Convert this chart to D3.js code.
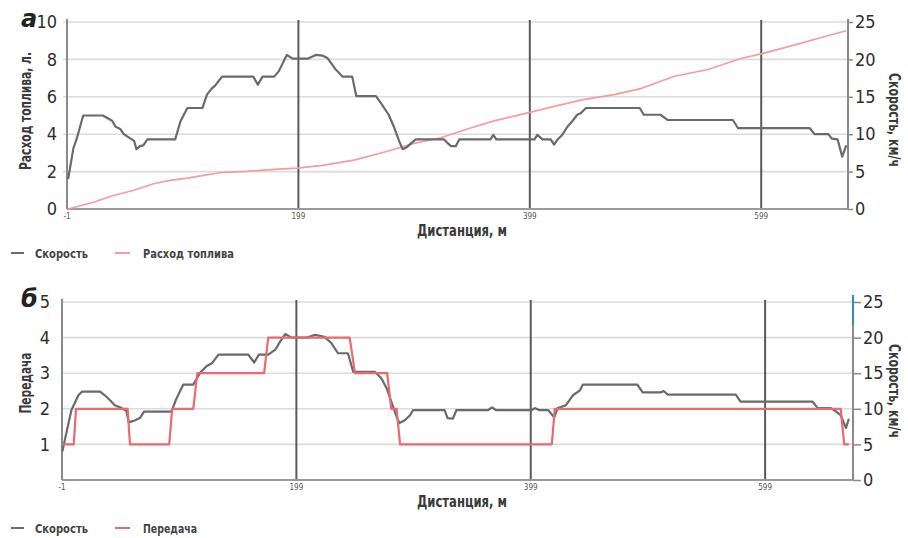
<!DOCTYPE html>
<html>
<head>
<meta charset="utf-8">
<script src="https://cdn.jsdelivr.net/npm/d3@7"></script>
<style>
  body { margin: 0; background: #fff; }
  text { font-family: "DejaVu Sans", sans-serif; font-stretch: condensed; fill: #333; }
  .tick-lbl { font-size: 18px; fill: #2e2e2e; }
  .xtick { font-size: 8px; fill: #555; }
  .title { font-size: 16px; font-weight: bold; fill: #3a3a3a; }
  .legend { font-size: 13px; font-weight: bold; fill: #444; }
  .panel-lbl { font-size: 24px; font-style: italic; font-weight: bold; fill: #222; font-stretch: normal; }
</style>
</head>
<body>
<script>
// distance axis (m), shared by both panels
var distDomain = [-1, 674];
var distTicks = [-1, 199, 399, 599];

// panel а: speed (km/h, right axis) and fuel consumption (l, left axis)
var speedA = [[0,4.0],[4.5,8.1],[7.4,9.4],[13,12.5],[30,12.5],[38,11.8],[41,11.0],[45,10.7],[48,10.0],[55,9.3],[57,9.1],[59,8.0],[62,8.4],[65,8.5],[68.5,9.3],[92.5,9.3],[97,11.7],[103,13.5],[116,13.5],[120,15.3],[124,16.1],[127,16.5],[133,17.7],[160,17.7],[164,16.6],[168,17.7],[178,17.7],[182,18.4],[189,20.6],[194,20.1],[207,20.1],[214,20.6],[220,20.5],[224,20.2],[231,18.7],[237,17.7],[245.5,17.7],[249,15.1],[266,15.1],[271.5,13.9],[277,12.6],[281.5,11.0],[286,9.1],[289,8.0],[293,8.3],[296.5,8.8],[300.5,9.3],[325,9.3],[328,8.8],[331,8.4],[335,8.4],[338,9.3],[365,9.3],[367.5,9.9],[370,9.3],[403,9.3],[405.5,9.9],[410,9.3],[417,9.3],[420,8.6],[423,9.3],[427,9.9],[431.5,11.0],[436,11.8],[440,12.6],[443,12.8],[447.5,13.5],[494,13.5],[497.5,12.6],[512,12.6],[518,11.9],[574.5,11.9],[579,10.8],[641,10.8],[645,10.0],[657,10.0],[660,9.4],[665,9.3],[669,7.0],[672.5,8.5]];
var fuelA = [[0,0],[22,0.36],[39,0.72],[56,0.99],[74,1.35],[88,1.53],[103,1.65],[117,1.80],[131,1.94],[154,2.01],[178,2.12],[198,2.19],[220,2.33],[247,2.61],[276,3.09],[299,3.51],[322,3.81],[345,4.28],[368,4.71],[400,5.18],[420,5.49],[445,5.85],[472,6.12],[495,6.44],[524,7.1],[553,7.46],[582,8.06],[600,8.31],[628,8.78],[651,9.17],[672.5,9.53]];
var fuelTicks = [0, 2, 4, 6, 8, 10];

// panel б: speed (km/h, right axis) and gear (left axis)
var speedB = [[-0.7,4.0],[3,6.8],[7,9.8],[13,11.9],[16,12.4],[31.5,12.4],[35.5,11.9],[40,11.2],[44,10.5],[50,10.1],[54,9.7],[56,8.1],[60,8.3],[65.5,8.7],[69,9.6],[92.5,9.6],[96,11.2],[102.5,13.4],[111,13.4],[117,15.1],[122.5,16.0],[127,16.4],[132.5,17.6],[158,17.6],[163,16.5],[167,17.6],[175,17.6],[181,18.3],[185,19.4],[189.5,20.5],[195,20.0],[208,20.0],[215,20.4],[223,20.1],[229,19.2],[234.5,17.8],[243,17.8],[247.5,15.2],[266,15.2],[271.5,14.3],[276,12.9],[281.5,10.3],[285,8.7],[287,8.0],[291.5,8.4],[296,9.1],[298.5,9.8],[325.5,9.8],[328,8.7],[332.5,8.6],[335.5,9.8],[362.5,9.8],[366,10.2],[369.5,9.8],[399.5,9.8],[402.5,10.1],[406.5,9.8],[414,9.8],[419,8.8],[422,10.1],[429,10.5],[435,11.9],[441,12.6],[443.5,13.4],[490,13.4],[494.5,12.3],[510,12.3],[512.5,12.5],[516,12.0],[574,12.0],[578,11.0],[639.5,11.0],[644,10.1],[655,10.1],[658,9.8],[663.5,9.1],[668,7.3],[670.5,8.6]];
var gearB = [[-0.7,1],[9,1],[11,2],[55,2],[57,1],[90.5,1],[93,2],[111,2],[114.5,3],[171.5,3],[175,4],[244.5,4],[249,3],[276.5,3],[280,2],[284.5,2],[287.5,1],[417,1],[419.5,2],[663.5,2],[666.5,1],[670.5,1]];
var gearTicks = [1, 2, 3, 4, 5];

var speedTicks = [0, 5, 10, 15, 20, 25];

var W = 908, H = 538;
var svg = d3.select("body").append("svg")
    .attr("width", W)
    .attr("height", H);

function drawPanel(p) {
    var g = svg.append("g");
    var x = d3.scaleLinear().domain(distDomain).range([p.x0, p.x1]);
    var yL = d3.scaleLinear().domain([0, p.leftMax]).range([p.yB, p.yT]);
    var yR = d3.scaleLinear().domain([0, 25]).range([p.yB, p.yT]);

    // horizontal grid
    g.selectAll("line.hgrid")
        .data(p.leftTicks.filter(function(d) { return d > 0; }))
        .join("line")
        .attr("x1", p.x0 - p.gridIn)
        .attr("x2", p.x1)
        .attr("y1", function(d) { return yL(d); })
        .attr("y2", function(d) { return yL(d); })
        .attr("stroke", "#dcdcdc")
        .attr("stroke-width", 1.6);

    // vertical lines at distance ticks
    g.selectAll("line.vgrid")
        .data(distTicks.slice(1))
        .join("line")
        .attr("x1", function(d) { return x(d); })
        .attr("x2", function(d) { return x(d); })
        .attr("y1", p.yT - 2)
        .attr("y2", p.yB)
        .attr("stroke", "#5a5a5a")
        .attr("stroke-width", 2);

    // x axis line
    g.append("line")
        .attr("x1", p.x0).attr("x2", p.x1)
        .attr("y1", p.yB).attr("y2", p.yB)
        .attr("stroke", "#9a9a9a").attr("stroke-width", 2);

    // left axis
    var ax = d3.axisLeft(yL).tickValues(p.leftTicks).tickFormat(d3.format("d"))
        .tickSize(0).tickPadding(p.leftPad);
    var gl = g.append("g").attr("transform", "translate(" + p.x0 + ",0)").call(ax);
    gl.select(".domain").attr("stroke", "#8a8a8a").attr("stroke-width", 2)
        .attr("d", "M0," + (p.yT - 3) + "V" + p.yB);
    gl.selectAll("text").attr("class", "tick-lbl").attr("font-family", null).attr("font-size", null).attr("fill", null);

    // right axis
    var ar = d3.axisRight(yR).tickValues(speedTicks).tickFormat(d3.format("d"))
        .tickSize(p.rTick).tickPadding(2);
    var gr = g.append("g").attr("transform", "translate(" + p.x1 + ",0)").call(ar);
    gr.select(".domain").attr("stroke", "#8a8a8a").attr("stroke-width", 2)
        .attr("d", "M0," + (p.yT - 3) + "V" + p.yB);
    gr.selectAll(".tick line").attr("stroke", "#8a8a8a").attr("stroke-width", 1.5);
    gr.selectAll("text").attr("class", "tick-lbl").attr("font-family", null).attr("font-size", null).attr("fill", null);

    // distance tick labels
    g.selectAll("text.xtick")
        .data(distTicks)
        .join("text")
        .attr("class", "xtick")
        .attr("x", function(d) { return x(d); })
        .attr("y", p.yB + 10)
        .attr("text-anchor", "middle")
        .text(function(d) { return d; });

    // series
    var lineL = d3.line().x(function(d) { return x(d[0]); }).y(function(d) { return yL(d[1]); });
    var lineR = d3.line().x(function(d) { return x(d[0]); }).y(function(d) { return yR(d[1]); });

    if (p.leftFirst) {
        g.append("path").datum(p.left).attr("d", lineL).attr("fill", "none")
            .attr("stroke", p.leftColor).attr("stroke-width", p.leftWidth).attr("stroke-linejoin", "round");
    }
    g.append("path").datum(p.speed).attr("d", lineR).attr("fill", "none")
        .attr("stroke", "#6a6a6a").attr("stroke-width", 2.2).attr("stroke-linejoin", "round");
    if (!p.leftFirst) {
        g.append("path").datum(p.left).attr("d", lineL).attr("fill", "none")
            .attr("stroke", p.leftColor).attr("stroke-width", p.leftWidth).attr("stroke-linejoin", "round");
    }

    // titles (widths fitted to the reference lettering)
    g.append("text").attr("class", "title")
        .attr("transform", "translate(" + 31 + "," + p.leftTitleY + ") rotate(-90)")
        .attr("text-anchor", "middle")
        .attr("textLength", p.leftTitleLen).attr("lengthAdjust", "spacingAndGlyphs")
        .text(p.leftTitle);
    g.append("text").attr("class", "title")
        .attr("transform", "translate(" + 889 + "," + p.rightTitleY + ") rotate(90)")
        .attr("text-anchor", "middle")
        .attr("textLength", 94).attr("lengthAdjust", "spacingAndGlyphs")
        .text("Скорость, км/ч");
    g.append("text").attr("class", "title")
        .attr("x", 462).attr("y", p.yB + 27)
        .attr("text-anchor", "middle")
        .attr("textLength", 90).attr("lengthAdjust", "spacingAndGlyphs")
        .text("Дистанция, м");

    // panel letter
    g.append("text").attr("class", "panel-lbl")
        .attr("x", 21).attr("y", p.letterY)
        .text(p.letter);

    // legend
    var ly = p.legendY;
    g.append("line").attr("x1", 11).attr("x2", 24).attr("y1", ly).attr("y2", ly)
        .attr("stroke", "#6a6a6a").attr("stroke-width", 2);
    g.append("text").attr("class", "legend").attr("x", 35).attr("y", ly + 4.5)
        .attr("textLength", 53).attr("lengthAdjust", "spacingAndGlyphs")
        .text("Скорость");
    g.append("line").attr("x1", 115).attr("x2", 130).attr("y1", ly).attr("y2", ly)
        .attr("stroke", p.leftColor).attr("stroke-width", 2);
    g.append("text").attr("class", "legend").attr("x", 143).attr("y", ly + 4.5)
        .attr("textLength", p.leftNameLen).attr("lengthAdjust", "spacingAndGlyphs")
        .text(p.leftName);

    return { x: x, yR: yR };
}

drawPanel({
    x0: 67, x1: 848, yT: 22, yB: 209, leftMax: 10, leftTicks: fuelTicks,
    gridIn: 4, leftPad: 10, rTick: 5,
    left: fuelA, speed: speedA, leftColor: "#ef9ea1", leftWidth: 1.7, leftFirst: true,
    leftTitle: "Расход топлива, л.", leftTitleLen: 118, leftTitleY: 111, rightTitleY: 120,
    letter: "а", letterY: 27, legendY: 253, leftName: "Расход топлива", leftNameLen: 91
});

var pb = drawPanel({
    x0: 62, x1: 853, yT: 302, yB: 480, leftMax: 5, leftTicks: gearTicks,
    gridIn: 0, leftPad: 12, rTick: 8,
    left: gearB, speed: speedB, leftColor: "#ea6a70", leftWidth: 2.2, leftFirst: false,
    leftTitle: "Передача", leftTitleLen: 61, leftTitleY: 383, rightTitleY: 391,
    letter: "б", letterY: 307, legendY: 528, leftName: "Передача", leftNameLen: 54
});

// small teal mark on the top of the right axis (panel б)
svg.append("line")
    .attr("x1", 853).attr("x2", 853)
    .attr("y1", pb.yR(25) - 7).attr("y2", pb.yR(21.8))
    .attr("stroke", "#3f8ea6").attr("stroke-width", 2.2);
</script>
</body>
</html>
